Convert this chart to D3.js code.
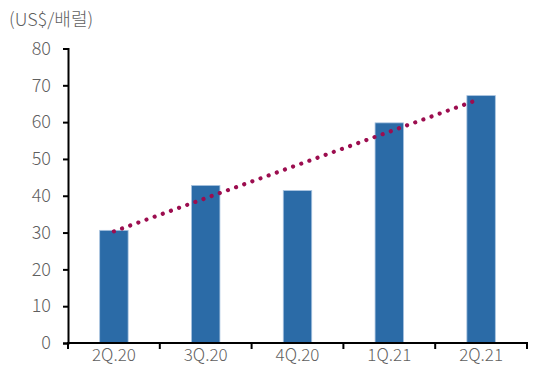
<!DOCTYPE html>
<html>
<head>
<meta charset="utf-8">
<script src="https://cdn.jsdelivr.net/npm/d3@7"></script>
<style>
  html, body { margin: 0; padding: 0; background: #fff; }
  svg { display: block; }
  text { font-family: "Noto Sans CJK KR", "Noto Sans", sans-serif; fill: #5f5f5f; font-weight: 300; }
</style>
</head>
<body>
<svg id="chart" width="533" height="365"></svg>
<script>
// Quarterly average price (US$/barrel)
const quarters = ["2Q.20", "3Q.20", "4Q.20", "1Q.21", "2Q.21"];
const prices = [30.6, 42.8, 41.4, 59.8, 67.2];
const yTicks = [0, 10, 20, 30, 40, 50, 60, 70, 80];
const unitLabel = "(US$/배럴)";

const svg = d3.select("#chart");
const margin = { left: 68, right: 6, top: 48.5, bottom: 22 };
const W = 533, H = 365;
const fontSize = 18;

const x = d3.scaleBand().domain(quarters).range([margin.left, W - margin.right]).padding(0);
const y = d3.scaleLinear().domain([0, 80]).range([H - margin.bottom, margin.top]);
const barW = x.bandwidth() * 0.31;

// bars
svg.append("g").selectAll("rect").data(prices).join("rect")
  .attr("x", (d, i) => x(quarters[i]) + x.bandwidth() / 2 - barW / 2)
  .attr("y", d => y(d))
  .attr("width", barW)
  .attr("height", d => y(0) - y(d))
  .attr("fill", "#2b6ba7")
  .attr("stroke", "#a9c4e0")
  .attr("stroke-width", 0.8);

// linear trend line (least squares fit of the quarterly prices)
const n = prices.length;
const xs = d3.range(n);
const mx = d3.mean(xs), my = d3.mean(prices);
const slope = d3.sum(xs, i => (i - mx) * (prices[i] - my)) / d3.sum(xs, i => (i - mx) ** 2);
const icpt = my - slope * mx;
const cx = i => x(quarters[i]) + x.bandwidth() / 2;
svg.append("line")
  .attr("x1", cx(0)).attr("y1", y(icpt))
  .attr("x2", cx(n - 1) - 4).attr("y2", y(icpt + slope * (n - 1 - 4 / x.bandwidth())))
  .attr("stroke", "#9c0d4f")
  .attr("stroke-width", 4.2)
  .attr("stroke-linecap", "round")
  .attr("stroke-dasharray", "0.01 8.65");

// y axis
const yAxis = svg.append("g")
  .attr("transform", `translate(${margin.left},0)`)
  .call(d3.axisLeft(y).tickValues(yTicks).tickSize(5).tickPadding(12).tickSizeOuter(5));
yAxis.select(".domain").attr("stroke", "#000").attr("stroke-width", 2);
yAxis.selectAll(".tick line").attr("stroke", "#000").attr("stroke-width", 2);
yAxis.selectAll(".tick text").attr("font-size", fontSize).attr("fill", "#5f5f5f")
  .style("font-family", '"Noto Sans CJK KR", sans-serif').style("font-weight", 300);

// x axis
const xBoundaries = quarters.map(q => x(q)).concat([x(quarters[n - 1]) + x.bandwidth()]);
const xg = svg.append("g").attr("transform", `translate(0,${y(0)})`);
xg.append("line")
  .attr("x1", margin.left - 1).attr("x2", W - margin.right + 1)
  .attr("stroke", "#000").attr("stroke-width", 2);
xg.selectAll("line.tk").data(xBoundaries).join("line")
  .attr("class", "tk")
  .attr("x1", d => d).attr("x2", d => d)
  .attr("y1", 0).attr("y2", 6)
  .attr("stroke", "#000").attr("stroke-width", 2);
xg.selectAll("text").data(quarters).join("text")
  .attr("x", d => x(d) + x.bandwidth() / 2)
  .attr("y", 17.5)
  .attr("text-anchor", "middle")
  .attr("font-size", 17)
  .text(d => d);

// unit label
svg.append("text")
  .attr("x", 9).attr("y", 26)
  .attr("font-size", fontSize)
  .text(unitLabel);
</script>
</body>
</html>
